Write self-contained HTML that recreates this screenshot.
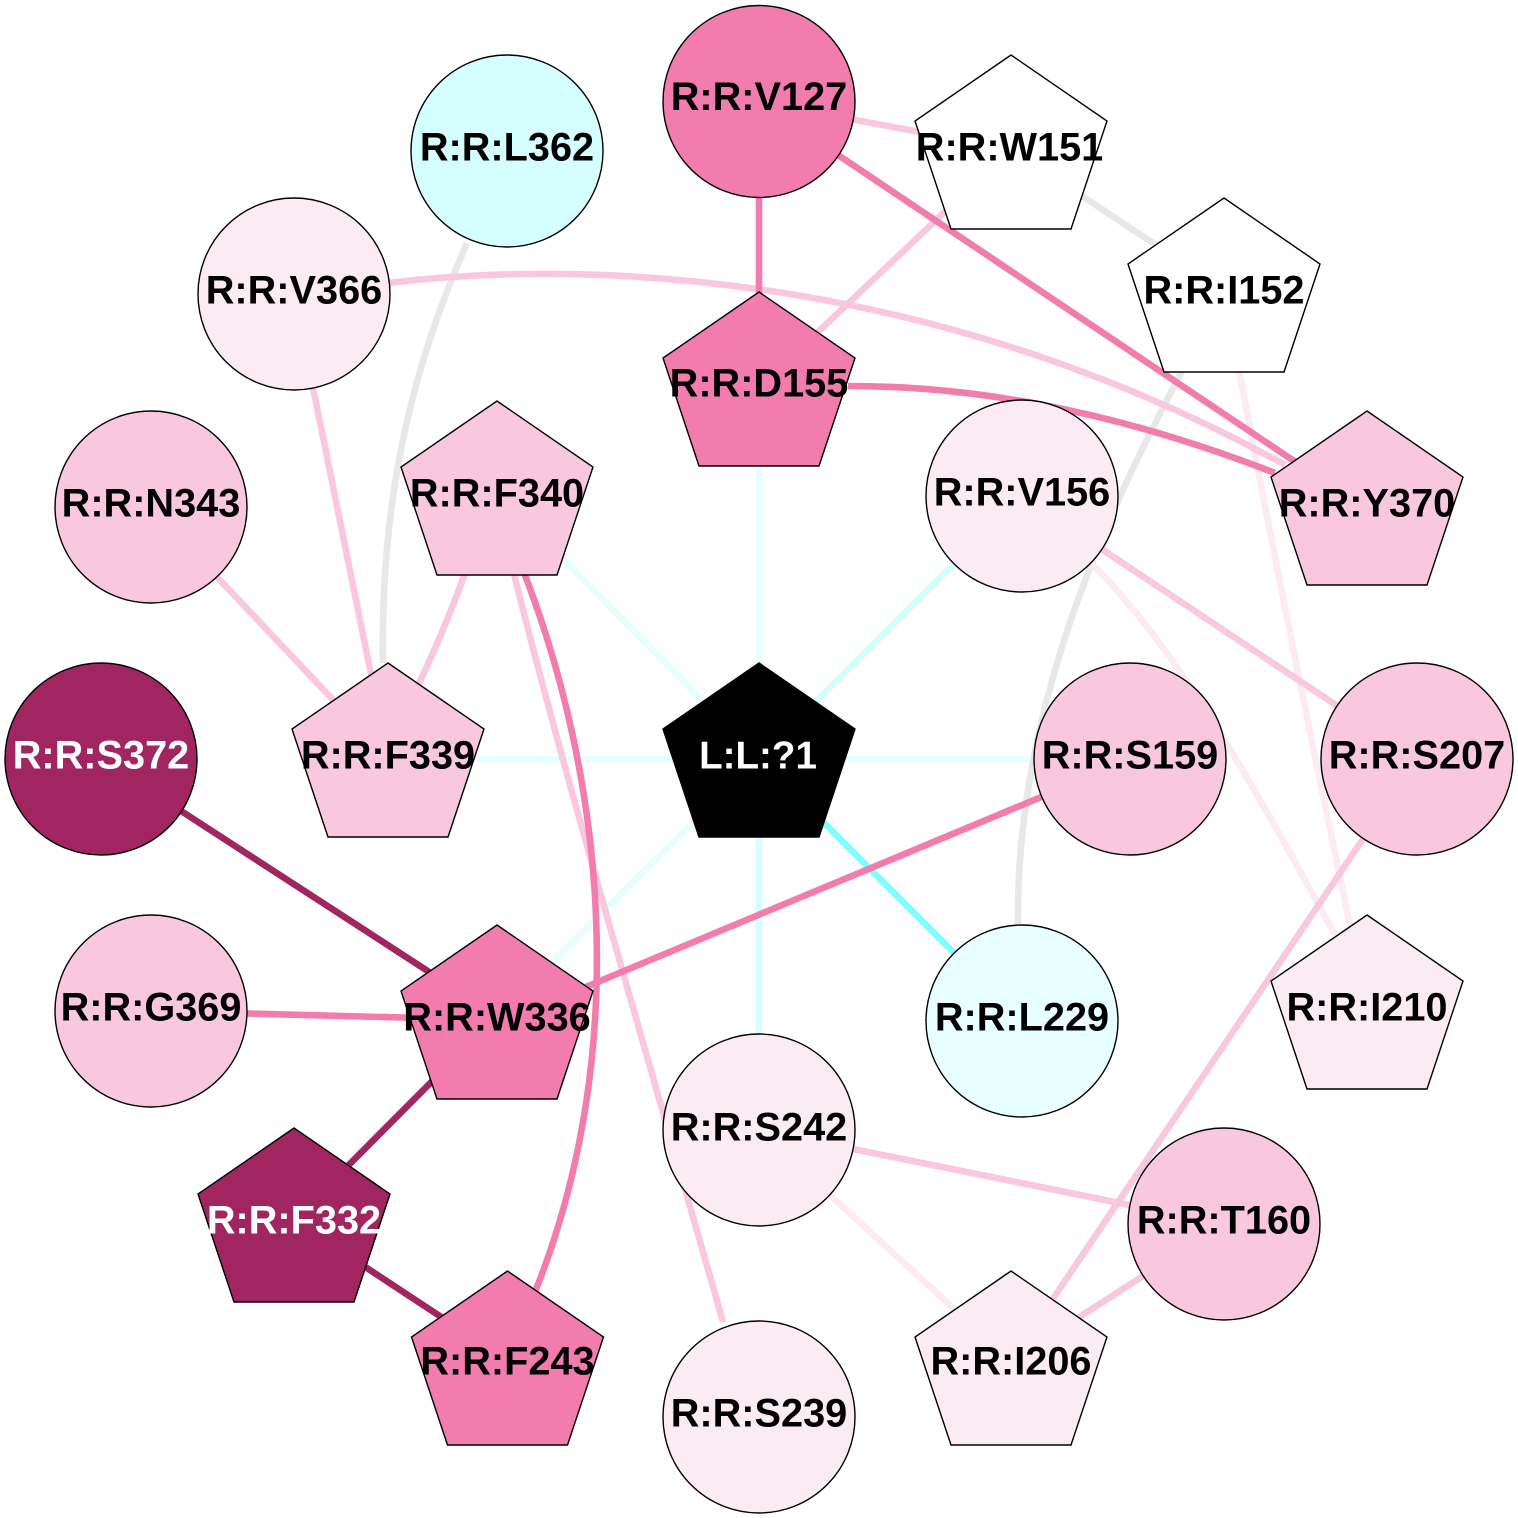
<!DOCTYPE html>
<html>
<head>
<meta charset="utf-8">
<style>
html,body{margin:0;padding:0;background:#fff;}
svg{display:block;}
text{font-family:"Liberation Sans",Arial,sans-serif;font-weight:bold;font-size:39.7px;text-anchor:middle;fill:#000;}
.e{fill:none;stroke-width:6.6;}
.n{stroke:#000;stroke-width:1.4;}
</style>
</head>
<body>
<svg width="1518" height="1518" viewBox="0 0 1518 1518" xmlns="http://www.w3.org/2000/svg">
<rect width="1518" height="1518" fill="#fff"/>
<g class="edges">
<!-- ligand edges -->
<path class="e" stroke="#e8ffff" d="M759 388L759 758"/>
<path class="e" stroke="#e8ffff" d="M497 492L759 758"/>
<path class="e" stroke="#e8ffff" d="M388 759L1130 759"/>
<path class="e" stroke="#e8ffff" d="M497 1016L759 758"/>
<path class="e" stroke="#d5ffff" d="M1022 496L759 758"/>
<path class="e" stroke="#d5ffff" d="M759 758L759 1130"/>
<path class="e" stroke="#7fffff" d="M759 758L1022 1021"/>
<!-- gray -->
<path class="e" stroke="#e8e8e8" d="M467 243C420 350 380 480 383 663"/>
<path class="e" stroke="#e8e8e8" d="M1185 365C1125 480 1015 690 1018 925"/>
<path class="e" stroke="#e8e8e8" d="M1011 149L1224 290"/>
<!-- very light -->
<path class="e" stroke="#fbebf3" d="M1238 365Q1290 640 1350 925"/>
<path class="e" stroke="#fbebf3" d="M1090 562C1170 640 1240 760 1335 935"/>
<path class="e" stroke="#fbebf3" d="M759 1130L1011 1361"/>
<!-- light pink -->
<path class="e" stroke="#f9c8df" d="M759 102L1011 149"/>
<path class="e" stroke="#f9c8df" d="M1011 149L759 388"/>
<path class="e" stroke="#f9c8df" d="M388 283C620 255 960 285 1285 465"/>
<path class="e" stroke="#f9c8df" d="M294 294L388 758"/>
<path class="e" stroke="#f9c8df" d="M151 507L388 758"/>
<path class="e" stroke="#f9c8df" d="M468 565Q445 630 415 692"/>
<path class="e" stroke="#f9c8df" d="M513 570C560 760 640 1030 723 1322"/>
<path class="e" stroke="#f9c8df" d="M1022 496L1417 759"/>
<path class="e" stroke="#f9c8df" d="M1417 759L1011 1361"/>
<path class="e" stroke="#f9c8df" d="M759 1130L1224 1224"/>
<path class="e" stroke="#f9c8df" d="M1224 1224L1011 1361"/>
<!-- medium pink -->
<path class="e" stroke="#f27cae" d="M759 102L759 388"/>
<path class="e" stroke="#f27cae" d="M759 102L1367 510"/>
<path class="e" stroke="#f27cae" d="M848 386C960 386 1100 405 1275 473"/>
<path class="e" stroke="#f27cae" d="M523 570C605 780 632 1050 535 1292"/>
<path class="e" stroke="#f27cae" d="M1130 760L497 1024"/>
<path class="e" stroke="#f27cae" d="M151 1011L497 1020"/>
<!-- dark -->
<path class="e" stroke="#a02560" d="M101 759L497 1016"/>
<path class="e" stroke="#a02560" d="M497 1016L294 1220"/>
<path class="e" stroke="#a02560" d="M294 1220L508 1361"/>
</g>
<g class="nodes">
<circle class="n" cx="759" cy="101.5" r="96" fill="#f27cae"/>
<circle class="n" cx="507" cy="151" r="96" fill="#d5ffff"/>
<circle class="n" cx="294" cy="294" r="96" fill="#fbebf3"/>
<circle class="n" cx="151" cy="507" r="96" fill="#f9c8df"/>
<circle class="n" cx="101" cy="759" r="96" fill="#a02560"/>
<circle class="n" cx="151" cy="1011" r="96" fill="#f9c8df"/>
<circle class="n" cx="1022" cy="496" r="96" fill="#fbebf3"/>
<circle class="n" cx="1130" cy="759" r="96" fill="#f9c8df"/>
<circle class="n" cx="1417" cy="759" r="96" fill="#f9c8df"/>
<circle class="n" cx="1022" cy="1021" r="96" fill="#e8ffff"/>
<circle class="n" cx="759" cy="1130" r="96" fill="#fbebf3"/>
<circle class="n" cx="1224" cy="1224" r="96" fill="#f9c8df"/>
<circle class="n" cx="759" cy="1417" r="96" fill="#fbebf3"/>
<polygon class="n" fill="#fff" points="1011,55 1107,121 1071,229 951,229 915,121"/>
<polygon class="n" fill="#fff" points="1224,198 1320,264 1284,372 1164,372 1128,264"/>
<polygon class="n" fill="#f27cae" points="759,292 855,358 819,466 699,466 663,358"/>
<polygon class="n" fill="#f9c8df" points="497,401 593,467 557,575 437,575 401,467"/>
<polygon class="n" fill="#f9c8df" points="1367,411 1463,477 1427,585 1307,585 1271,477"/>
<polygon class="n" fill="#f9c8df" points="388,663 484,729 448,837 328,837 292,729"/>
<polygon class="n" fill="#000" points="759,663 855,729 819,837 699,837 663,729"/>
<polygon class="n" fill="#f27cae" points="497,925 593,991 557,1099 437,1099 401,991"/>
<polygon class="n" fill="#fbebf3" points="1367,915 1463,981 1427,1089 1307,1089 1271,981"/>
<polygon class="n" fill="#a02560" points="294,1128 390,1194 354,1302 234,1302 198,1194"/>
<polygon class="n" fill="#f27cae" points="507.5,1271 603.5,1337 567.5,1445 447.5,1445 411.5,1337"/>
<polygon class="n" fill="#fbebf3" points="1011,1271 1107,1337 1071,1445 951,1445 915,1337"/>
</g>
<g class="labels" transform="translate(0,-0.6)">
<text x="759" y="110.6">R:R:V127</text>
<text x="507" y="161">R:R:L362</text>
<text x="294" y="304">R:R:V366</text>
<text x="151" y="517">R:R:N343</text>
<text x="101" y="769" style="fill:#fff">R:R:S372</text>
<text x="151" y="1021">R:R:G369</text>
<text x="1022" y="506">R:R:V156</text>
<text x="1130" y="769">R:R:S159</text>
<text x="1417" y="769">R:R:S207</text>
<text x="1022" y="1031">R:R:L229</text>
<text x="759" y="1141">R:R:S242</text>
<text x="1224" y="1234">R:R:T160</text>
<text x="759" y="1427">R:R:S239</text>
<text x="1009.5" y="161">R:R:W151</text>
<text x="1224" y="304">R:R:I152</text>
<text x="759" y="397">R:R:D155</text>
<text x="497" y="507">R:R:F340</text>
<text x="1367" y="517">R:R:Y370</text>
<text x="388" y="769">R:R:F339</text>
<text x="758" y="769" style="fill:#fff;font-size:38.6px">L:L:?1</text>
<text x="497" y="1031">R:R:W336</text>
<text x="1367" y="1021">R:R:I210</text>
<text x="294" y="1234" style="fill:#fff">R:R:F332</text>
<text x="507.5" y="1375">R:R:F243</text>
<text x="1011" y="1375">R:R:I206</text>
</g>
</svg>
</body>
</html>
